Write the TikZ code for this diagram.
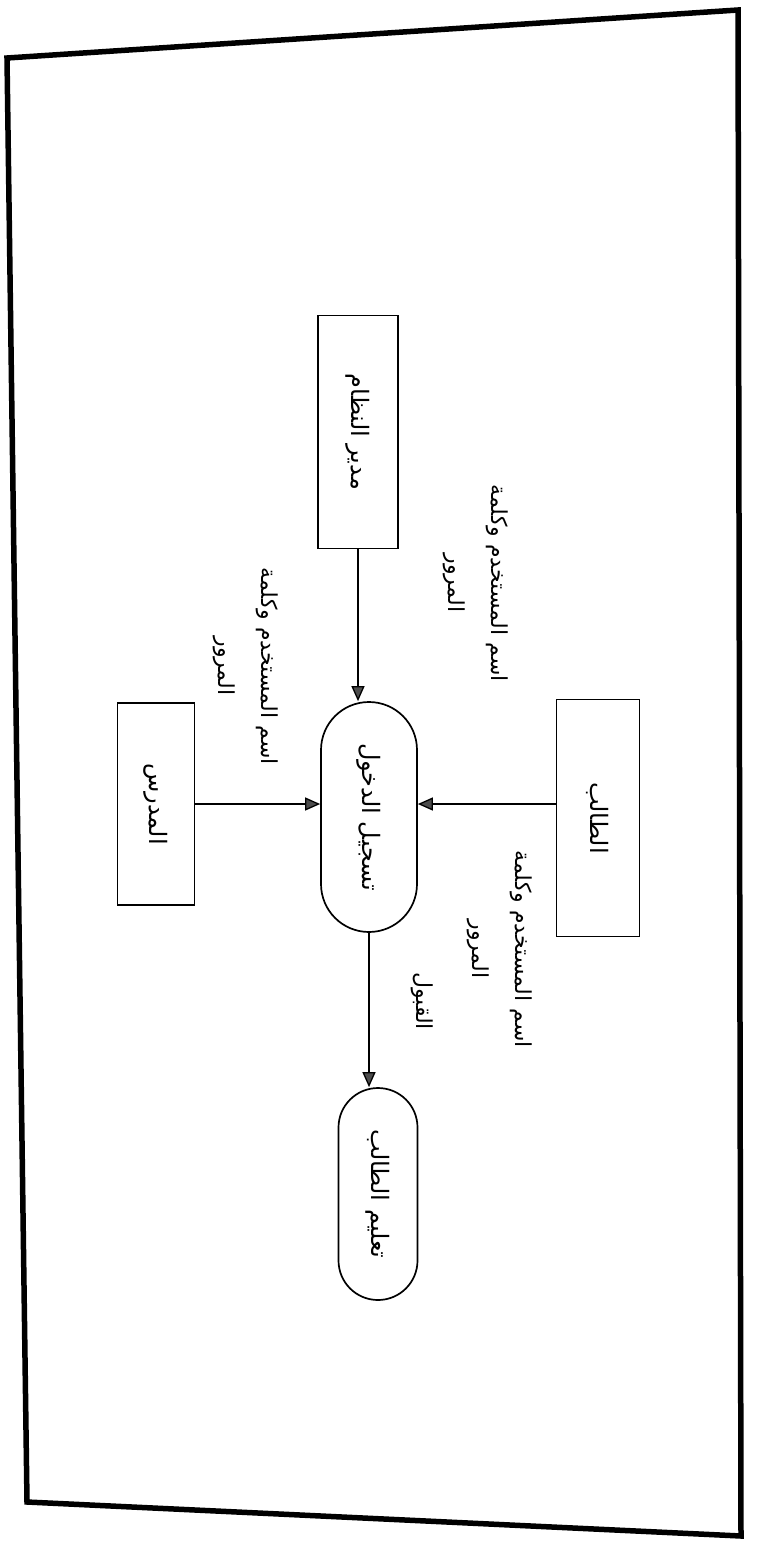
\documentclass[tikz,border=0pt]{standalone}
\usepackage{fontspec}
\newfontfamily\arabicfont[Script=Arabic]{DejaVu Sans}
\TeXXeTstate=1
\usetikzlibrary{arrows.meta,shapes.misc}

\newcommand{\artxt}[1]{\beginR #1\endR}

\begin{document}
\begin{tikzpicture}[x=1pt,y=-1pt,
    ent/.style={draw, rectangle, line width=1.7pt, rotate=-90, inner sep=0pt,
        font=\arabicfont\fontsize{24}{28}\selectfont},
    proc/.style={draw, rounded rectangle, line width=1.7pt, rotate=-90, inner sep=0pt,
        font=\arabicfont\fontsize{24}{28}\selectfont},
    lbl/.style={rotate=-90, align=center, inner sep=0pt,
        font=\arabicfont\fontsize{22}{43}\selectfont},
    flow/.style={-{Triangle[length=15pt,width=13pt,fill=black!70]}, line width=1.3pt}]
        \useasboundingbox (0,0) rectangle (759,1541);
        \draw[line width=5.5pt, line join=miter] (7,58) -- (738,10) -- (741,1536) -- (27,1502) -- cycle;

        \node[ent, minimum width=233pt, minimum height=80pt] (admin) at (358,432) {\artxt{مدير النظام}};
        \node[ent, minimum width=202pt, minimum height=77pt] (teacher) at (156,804) {\artxt{المدرس}};
        \node[ent, minimum width=237pt, minimum height=83pt] (student) at (598,818) {\artxt{الطالب}};
        \node[proc, minimum width=230pt, minimum height=96pt] (login) at (369,817) {\artxt{تسجيل الدخول}};
        \node[proc, minimum width=212pt, minimum height=79pt] (learn) at (378,1194) {\artxt{تعليم الطالب}};

        \node[lbl] (lbladmin) at (476,583) {\artxt{اسم المستخدم وكلمة}\\\artxt{المرور}};
        \node[lbl] (lblteacher) at (246,666) {\artxt{اسم المستخدم وكلمة}\\\artxt{المرور}};
        \node[lbl] (lblstudent) at (500,949) {\artxt{اسم المستخدم وكلمة}\\\artxt{المرور}};
        \node[lbl] (lblaccept) at (422,1001) {\artxt{القبول}};

        \draw[flow] (admin.east) -- (admin.east |- login.west);
        \draw[flow] (teacher.north) -- (teacher.north -| login.south);
        \draw[flow] (student.south |- teacher.north) -- (login.north |- teacher.north);
        \draw[flow] (login.east) -- (login.east |- learn.west);
    \end{tikzpicture}
\end{document}
